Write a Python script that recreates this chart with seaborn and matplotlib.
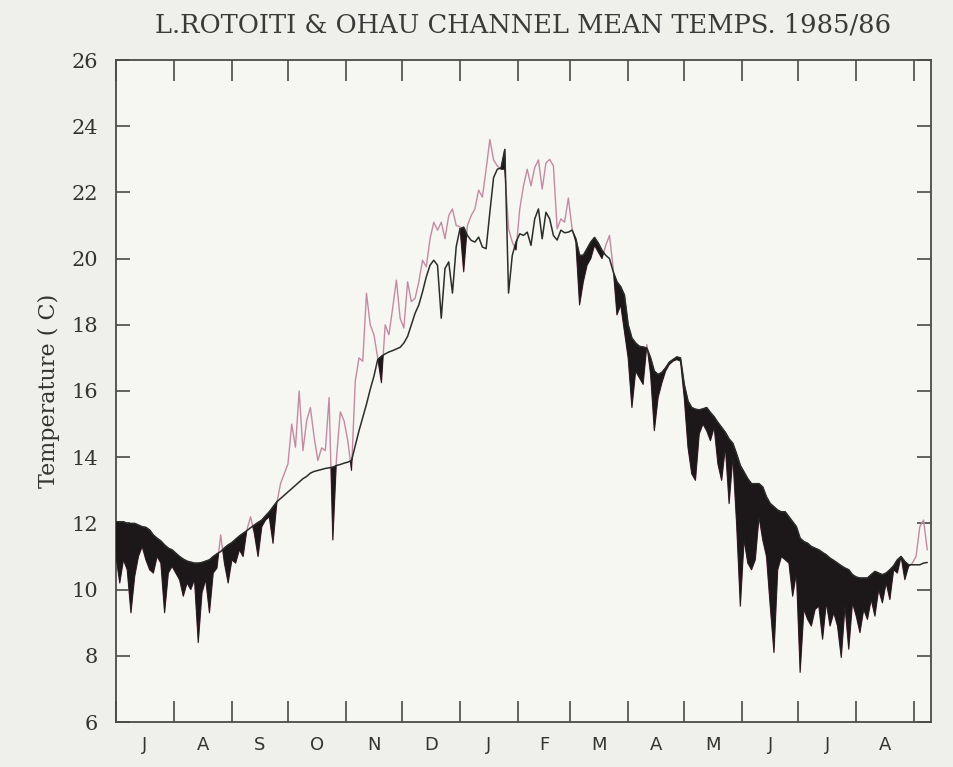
import numpy as np
import pandas as pd
import matplotlib
matplotlib.use("Agg")
import matplotlib.pyplot as plt
import seaborn as sns

month_labels = ['J', 'A', 'S', 'O', 'N', 'D', 'J', 'F', 'M', 'A', 'M', 'J', 'J', 'A']
month_starts = [0, 31, 62, 92, 123, 153, 184, 215, 243, 274, 304, 335, 365, 396, 427]
y_ticks = [6, 8, 10, 12, 14, 16, 18, 20, 22, 24, 26]

lake_rotoiti = [
    12.05, 12.05, 12.05, 12.0, 12.0, 12.0, 11.95, 11.9, 11.88, 11.8,
    11.65, 11.55, 11.47, 11.35, 11.25, 11.2, 11.1, 11.0, 10.92, 10.86,
    10.83, 10.8, 10.8, 10.82, 10.86, 10.9, 11.0, 11.08, 11.15, 11.26,
    11.35, 11.42, 11.52, 11.62, 11.7, 11.78, 11.87, 11.95, 12.03, 12.1,
    12.23, 12.35, 12.5, 12.65, 12.75, 12.85, 12.95, 13.05, 13.15, 13.25,
    13.35, 13.42, 13.52, 13.57, 13.6, 13.63, 13.66, 13.68, 13.7, 13.75,
    13.78, 13.82, 13.85, 13.9, 14.35, 14.8, 15.2, 15.6, 16.05, 16.45,
    16.95, 17.05, 17.12, 17.18, 17.22, 17.27, 17.32, 17.45, 17.65, 18.0,
    18.35, 18.6, 19.0, 19.45, 19.8, 19.95, 19.8, 18.2, 19.7, 19.9,
    18.96, 20.36, 20.9, 20.95, 20.7, 20.55, 20.5, 20.65, 20.35, 20.3,
    21.4, 22.45, 22.7, 22.74, 23.3, 18.96, 20.1, 20.5, 20.75, 20.7,
    20.8, 20.4, 21.2, 21.5, 20.6, 21.4, 21.2, 20.7, 20.56, 20.86,
    20.78, 20.8, 20.86, 20.6, 20.1, 20.1, 20.3, 20.5, 20.64, 20.47,
    20.25, 20.1, 20.0, 19.6, 19.3, 19.15, 18.9, 18.0, 17.6, 17.45,
    17.35, 17.33, 17.3, 17.0, 16.6, 16.5, 16.56, 16.7, 16.87, 16.95,
    17.03, 17.0, 16.2, 15.7, 15.5, 15.45, 15.43, 15.46, 15.5, 15.35,
    15.22, 15.05, 14.9, 14.75, 14.55, 14.42, 14.1, 13.75, 13.55, 13.35,
    13.2, 13.2, 13.2, 13.1, 12.8, 12.6, 12.5, 12.4, 12.35, 12.35,
    12.2, 12.05, 11.9, 11.55, 11.45, 11.4, 11.3, 11.25, 11.2, 11.12,
    11.05, 10.95, 10.88, 10.8, 10.72, 10.65, 10.6, 10.45, 10.38, 10.35,
    10.35, 10.35, 10.45, 10.55, 10.5, 10.45, 10.5, 10.6, 10.72, 10.9,
    11.0, 10.85, 10.75, 10.75, 10.75, 10.75, 10.8, 10.82,
]

ohau_channel = [
    11.0, 10.2, 10.9, 10.6, 9.3, 10.4, 11.0, 11.3, 10.9, 10.6,
    10.5, 11.0, 10.8, 9.3, 10.5, 10.7, 10.5, 10.3, 9.8, 10.2,
    10.0, 10.3, 8.4, 9.9, 10.3, 9.3, 10.5, 10.65, 11.65, 10.8,
    10.2, 10.9, 10.8, 11.2, 11.0, 11.8, 12.2, 11.7, 11.0, 11.9,
    12.1, 12.2, 11.4, 12.6, 13.2, 13.5, 13.8, 15.0, 14.3, 16.0,
    14.2, 15.1, 15.5, 14.6, 13.9, 14.28, 14.2, 15.8, 11.5, 14.0,
    15.37, 15.1, 14.5, 13.6, 16.3, 17.0, 16.9, 18.95, 18.0, 17.7,
    17.0, 16.25, 18.0, 17.7, 18.5, 19.35, 18.2, 17.9, 19.3, 18.7,
    18.8, 19.3, 19.95, 19.75, 20.6, 21.1, 20.86, 21.1, 20.6, 21.3,
    21.5, 21.0, 20.96, 19.6, 21.0, 21.3, 21.5, 22.07, 21.86, 22.7,
    23.6, 22.98, 22.8, 22.7, 22.7, 20.9, 20.5, 20.26, 21.5, 22.2,
    22.7, 22.2, 22.75, 22.98, 22.1, 22.89, 23.0, 22.8, 20.9, 21.2,
    21.1, 21.83, 20.9, 20.5, 18.6, 19.3, 19.8, 20.0, 20.4, 20.2,
    20.0, 20.4, 20.7, 19.7, 18.3, 18.6, 17.8, 17.0, 15.5, 16.6,
    16.4, 16.2, 17.4, 16.5, 14.8, 15.8, 16.24, 16.6, 16.8, 16.9,
    16.95, 16.9, 15.8, 14.3, 13.5, 13.3, 14.7, 15.0, 14.8, 14.5,
    14.9, 13.8, 13.3, 14.3, 12.6, 14.0, 12.0, 9.5, 11.5, 10.8,
    10.6, 10.9, 12.2, 11.5, 11.0, 9.5, 8.1, 10.6, 11.0, 10.9,
    10.8, 9.8, 10.5, 7.5, 9.4, 9.1, 8.9, 9.4, 9.5, 8.5,
    9.6, 8.9, 9.3, 8.9, 7.95, 9.5, 8.2, 9.6, 9.2, 8.7,
    9.4, 9.1, 9.7, 9.2, 10.0, 9.6, 10.2, 9.7, 10.6, 10.5,
    11.0, 10.3, 10.7, 10.8, 11.0, 11.9, 12.1, 11.2,
]

days = np.arange(0, 2 * len(lake_rotoiti), 2)
assert len(lake_rotoiti) == len(ohau_channel) == len(days)

df = pd.DataFrame({"day": days, "lake": lake_rotoiti, "channel": ohau_channel})

# ---- style ----
sns.set_theme(style="white")
plt.rcParams['font.family'] = ['DejaVu Sans']

BG = '#eff0eb'
AX_BG = '#f6f6f3'
INK = '#4a4a48'

fig = plt.figure(figsize=(9.54, 7.67), dpi=100, facecolor=BG)
ax = fig.add_axes([116 / 954, 1 - 722 / 767, 815 / 954, 662 / 767])
ax.set_facecolor(AX_BG)

sns.lineplot(data=df, x="day", y="channel", ax=ax, color='#c48aa4', lw=1.0, zorder=2)
ax.fill_between(df["day"], df["channel"], df["lake"], where=df["channel"] < df["lake"],
                interpolate=True, color='#1c1719', lw=0.6, zorder=3)
sns.lineplot(data=df, x="day", y="lake", ax=ax, color='#2a2e2a', lw=1.1, zorder=4)

ax.set_xlim(0, 436)
ax.set_ylim(6, 26)

# month boundary ticks (inward) and centred month letters
ax.set_xticks(month_starts)
ax.set_xticklabels([])
mids = [(month_starts[i] + month_starts[i + 1]) / 2 for i in range(len(month_labels))]
ax.set_xticks(mids, minor=True)
ax.set_xticklabels(month_labels, minor=True, fontsize=13, color='#333333',
                   family=['DejaVu Sans'])
ax.tick_params(axis='x', which='major', direction='in', length=15, width=1.2,
               color=INK, top=True, bottom=True)
ax.tick_params(axis='x', which='minor', length=0, pad=10)

ax.set_yticks(y_ticks)
ax.set_yticklabels([str(v) for v in y_ticks], fontsize=15, color='#333333',
                   family=['DejaVu Serif'])
ax.tick_params(axis='y', which='major', direction='in', length=10, width=1.2,
               color=INK, left=True, right=True, pad=13)

for s in ax.spines.values():
    s.set_color(INK)
    s.set_linewidth(1.3)

ax.set_xlabel('')
ax.set_ylabel('Temperature ( C)', fontsize=16, color='#333333',
              family=['DejaVu Serif'], labelpad=8)

fig.text(0.548, 0.968, 'L.ROTOITI & OHAU CHANNEL MEAN TEMPS. 1985/86',
         ha='center', va='center', fontsize=18.5, color='#3a3a3a',
         family=['DejaVu Serif'])

fig.savefig('out.png', dpi=100, facecolor=BG)
